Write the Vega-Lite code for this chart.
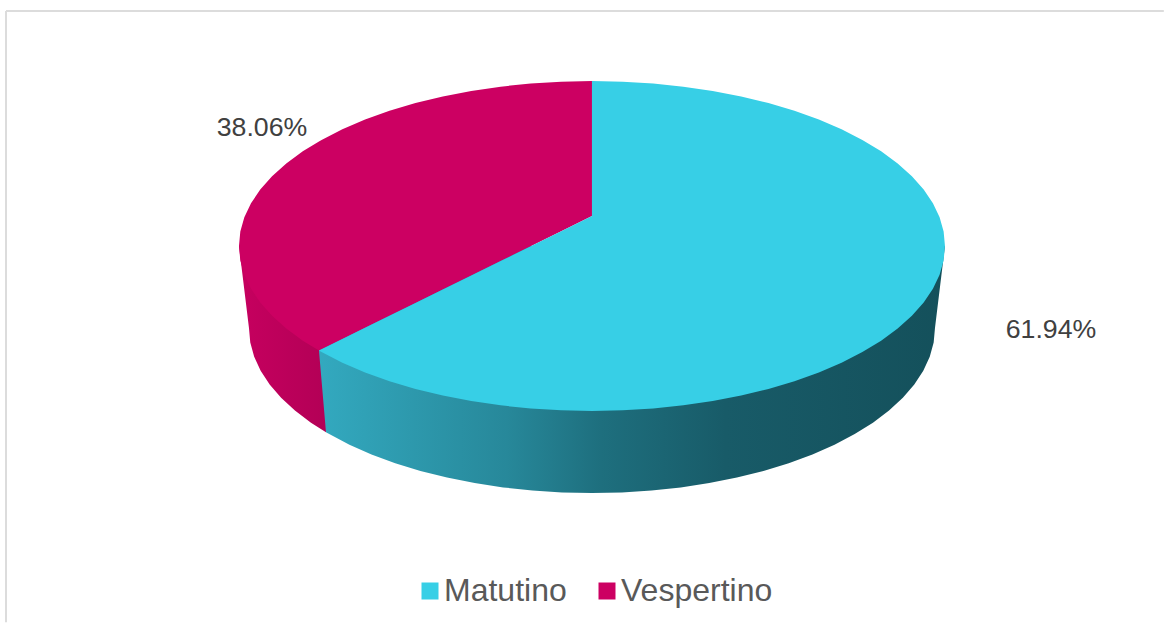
{
  "$schema": "https://vega.github.io/schema/vega-lite/v6.json",
  "width": 1167,
  "height": 624,
  "autosize": {"type": "fit", "contains": "padding"},
  "padding": 0,
  "background": "white",
  "view": {"stroke": null},
  "datasets": {
    "frame": [
      {"x": -1.66, "x_end": 1.62, "y": 1.424, "y_end": 1.424},
      {"x": -1.66, "x_end": -1.66, "y": 1.424, "y_end": -2.28}
    ],
    "sideVespertino": [
      {"x": -1, "y": 0, "low": 0},
      {"x": -0.9717, "y": 0, "low": -0.497},
      {"x": -0.968, "y": 0, "low": -0.5842},
      {"x": -0.9569, "y": 0, "low": -0.6706},
      {"x": -0.9386, "y": 0, "low": -0.7558},
      {"x": -0.9131, "y": 0, "low": -0.839},
      {"x": -0.8807, "y": 0, "low": -0.9196},
      {"x": -0.8415, "y": 0, "low": -0.997},
      {"x": -0.796, "y": 0, "low": -1.0706},
      {"x": -0.7535, "y": 0, "low": -1.1284}
    ],
    "sideMatutino": [
      {"x": -0.7734, "y": 0, "low": -0.634},
      {"x": -0.7535, "y": 0, "low": -1.1284},
      {"x": -0.7443, "y": 0, "low": -1.1398},
      {"x": -0.6871, "y": 0, "low": -1.2041},
      {"x": -0.6246, "y": 0, "low": -1.263},
      {"x": -0.5574, "y": 0, "low": -1.3162},
      {"x": -0.4859, "y": 0, "low": -1.363},
      {"x": -0.4106, "y": 0, "low": -1.4033},
      {"x": -0.3323, "y": 0, "low": -1.4367},
      {"x": -0.2515, "y": 0, "low": -1.4629},
      {"x": -0.1687, "y": 0, "low": -1.4818},
      {"x": -0.0847, "y": 0, "low": -1.4932},
      {"x": 0, "y": 0, "low": -1.497},
      {"x": 0.0847, "y": 0, "low": -1.4932},
      {"x": 0.1687, "y": 0, "low": -1.4818},
      {"x": 0.2515, "y": 0, "low": -1.4629},
      {"x": 0.3323, "y": 0, "low": -1.4367},
      {"x": 0.4106, "y": 0, "low": -1.4033},
      {"x": 0.4859, "y": 0, "low": -1.363},
      {"x": 0.5574, "y": 0, "low": -1.3162},
      {"x": 0.6246, "y": 0, "low": -1.263},
      {"x": 0.6871, "y": 0, "low": -1.2041},
      {"x": 0.7443, "y": 0, "low": -1.1398},
      {"x": 0.796, "y": 0, "low": -1.0706},
      {"x": 0.8415, "y": 0, "low": -0.997},
      {"x": 0.8807, "y": 0, "low": -0.9196},
      {"x": 0.9131, "y": 0, "low": -0.839},
      {"x": 0.9386, "y": 0, "low": -0.7558},
      {"x": 0.9569, "y": 0, "low": -0.6706},
      {"x": 0.968, "y": 0, "low": -0.5842},
      {"x": 0.9717, "y": 0, "low": -0.497},
      {"x": 1, "y": 0, "low": 0}
    ],
    "topFaces": [
      {"turno": "Vespertino", "x": -1, "y": 0, "low": 0},
      {"turno": "Vespertino", "x": -0.9962, "y": 0.0872, "low": -0.0872},
      {"turno": "Vespertino", "x": -0.9848, "y": 0.1736, "low": -0.1736},
      {"turno": "Vespertino", "x": -0.9659, "y": 0.2588, "low": -0.2588},
      {"turno": "Vespertino", "x": -0.9397, "y": 0.342, "low": -0.342},
      {"turno": "Vespertino", "x": -0.9063, "y": 0.4226, "low": -0.4226},
      {"turno": "Vespertino", "x": -0.866, "y": 0.5, "low": -0.5},
      {"turno": "Vespertino", "x": -0.8192, "y": 0.5736, "low": -0.5736},
      {"turno": "Vespertino", "x": -0.7734, "y": 0.634, "low": -0.634},
      {"turno": "Vespertino", "x": -0.766, "y": 0.6428, "low": -0.6262},
      {"turno": "Vespertino", "x": -0.7071, "y": 0.7071, "low": -0.5641},
      {"turno": "Vespertino", "x": -0.6428, "y": 0.766, "low": -0.4962},
      {"turno": "Vespertino", "x": -0.5736, "y": 0.8192, "low": -0.4232},
      {"turno": "Vespertino", "x": -0.5, "y": 0.866, "low": -0.3456},
      {"turno": "Vespertino", "x": -0.4226, "y": 0.9063, "low": -0.264},
      {"turno": "Vespertino", "x": -0.342, "y": 0.9397, "low": -0.1789},
      {"turno": "Vespertino", "x": -0.2588, "y": 0.9659, "low": -0.0912},
      {"turno": "Vespertino", "x": -0.1736, "y": 0.9848, "low": -0.0013},
      {"turno": "Vespertino", "x": -0.0872, "y": 0.9962, "low": 0.0898},
      {"turno": "Vespertino", "x": 0, "y": 1, "low": 0.1818},
      {"turno": "Matutino", "x": -0.7734, "y": -0.634, "low": -0.634},
      {"turno": "Matutino", "x": -0.766, "y": -0.6262, "low": -0.6428},
      {"turno": "Matutino", "x": -0.7071, "y": -0.5641, "low": -0.7071},
      {"turno": "Matutino", "x": -0.6428, "y": -0.4962, "low": -0.766},
      {"turno": "Matutino", "x": -0.5736, "y": -0.4232, "low": -0.8192},
      {"turno": "Matutino", "x": -0.5, "y": -0.3456, "low": -0.866},
      {"turno": "Matutino", "x": -0.4226, "y": -0.264, "low": -0.9063},
      {"turno": "Matutino", "x": -0.342, "y": -0.1789, "low": -0.9397},
      {"turno": "Matutino", "x": -0.2588, "y": -0.0912, "low": -0.9659},
      {"turno": "Matutino", "x": -0.1736, "y": -0.0013, "low": -0.9848},
      {"turno": "Matutino", "x": -0.0872, "y": 0.0898, "low": -0.9962},
      {"turno": "Matutino", "x": 0, "y": 0.1818, "low": -1},
      {"turno": "Matutino", "x": 0, "y": 1, "low": -1},
      {"turno": "Matutino", "x": 0.0872, "y": 0.9962, "low": -0.9962},
      {"turno": "Matutino", "x": 0.1736, "y": 0.9848, "low": -0.9848},
      {"turno": "Matutino", "x": 0.2588, "y": 0.9659, "low": -0.9659},
      {"turno": "Matutino", "x": 0.342, "y": 0.9397, "low": -0.9397},
      {"turno": "Matutino", "x": 0.4226, "y": 0.9063, "low": -0.9063},
      {"turno": "Matutino", "x": 0.5, "y": 0.866, "low": -0.866},
      {"turno": "Matutino", "x": 0.5736, "y": 0.8192, "low": -0.8192},
      {"turno": "Matutino", "x": 0.6428, "y": 0.766, "low": -0.766},
      {"turno": "Matutino", "x": 0.7071, "y": 0.7071, "low": -0.7071},
      {"turno": "Matutino", "x": 0.766, "y": 0.6428, "low": -0.6428},
      {"turno": "Matutino", "x": 0.8192, "y": 0.5736, "low": -0.5736},
      {"turno": "Matutino", "x": 0.866, "y": 0.5, "low": -0.5},
      {"turno": "Matutino", "x": 0.9063, "y": 0.4226, "low": -0.4226},
      {"turno": "Matutino", "x": 0.9397, "y": 0.342, "low": -0.342},
      {"turno": "Matutino", "x": 0.9659, "y": 0.2588, "low": -0.2588},
      {"turno": "Matutino", "x": 0.9848, "y": 0.1736, "low": -0.1736},
      {"turno": "Matutino", "x": 0.9962, "y": 0.0872, "low": -0.0872},
      {"turno": "Matutino", "x": 1, "y": 0, "low": 0}
    ],
    "shares": [
      {"turno": "Matutino", "share": 0.6194, "x": 1.3003, "y": -0.51},
      {"turno": "Vespertino", "share": 0.3806, "x": -0.9348, "y": 0.715}
    ]
  },
  "encoding": {
    "x": {"field": "x", "type": "quantitative", "axis": null, "scale": {"domain": [-1.677, 1.629], "nice": false, "zero": false}},
    "y": {"field": "y", "type": "quantitative", "axis": null, "stack": null, "scale": {"domain": [-2.2909, 1.4909], "nice": false, "zero": false}}
  },
  "layer": [
    {
      "data": {"name": "frame"},
      "mark": {"type": "rule", "color": "#dcdcdc", "strokeWidth": 2},
      "encoding": {"x2": {"field": "x_end"}, "y2": {"field": "y_end"}}
    },
    {
      "data": {"name": "sideVespertino"},
      "mark": {
        "type": "area",
        "orient": "vertical",
        "color": {
          "gradient": "linear", "x1": 0, "y1": 0, "x2": 1, "y2": 0,
          "stops": [{"offset": 0, "color": "#c6005f"}, {"offset": 1, "color": "#b30056"}]
        }
      },
      "encoding": {"y2": {"field": "low"}}
    },
    {
      "data": {"name": "sideMatutino"},
      "mark": {
        "type": "area",
        "orient": "vertical",
        "color": {
          "gradient": "linear", "x1": 0, "y1": 0, "x2": 1, "y2": 0,
          "stops": [
            {"offset": 0, "color": "#33a9bf"},
            {"offset": 0.3, "color": "#27889a"},
            {"offset": 0.45, "color": "#1e6f7e"},
            {"offset": 0.65, "color": "#185b68"},
            {"offset": 1, "color": "#14505b"}
          ]
        }
      },
      "encoding": {"y2": {"field": "low"}}
    },
    {
      "data": {"name": "topFaces"},
      "mark": {"type": "area", "orient": "vertical"},
      "encoding": {
        "y2": {"field": "low"},
        "color": {
          "field": "turno",
          "type": "nominal",
          "scale": {"domain": ["Matutino", "Vespertino"], "range": ["#37cfe6", "#cc0062"]},
          "legend": {
            "title": null,
            "orient": "none",
            "legendX": 414,
            "legendY": 575,
            "direction": "horizontal",
            "padding": 0,
            "symbolType": "square",
            "symbolSize": 289,
            "symbolStrokeWidth": 0,
            "labelFont": "Liberation Sans",
            "labelFontSize": 32,
            "labelColor": "#595959",
            "labelLimit": 300,
            "labelOffset": -2,
            "columnPadding": 24,
            "symbolOpacity": 1
          }
        }
      }
    },
    {
      "data": {"name": "shares"},
      "mark": {"type": "text", "font": "Liberation Sans", "fontSize": 26.7, "color": "#404040", "align": "center", "baseline": "middle"},
      "encoding": {"text": {"field": "share", "type": "quantitative", "format": ".2%"}}
    }
  ]
}
